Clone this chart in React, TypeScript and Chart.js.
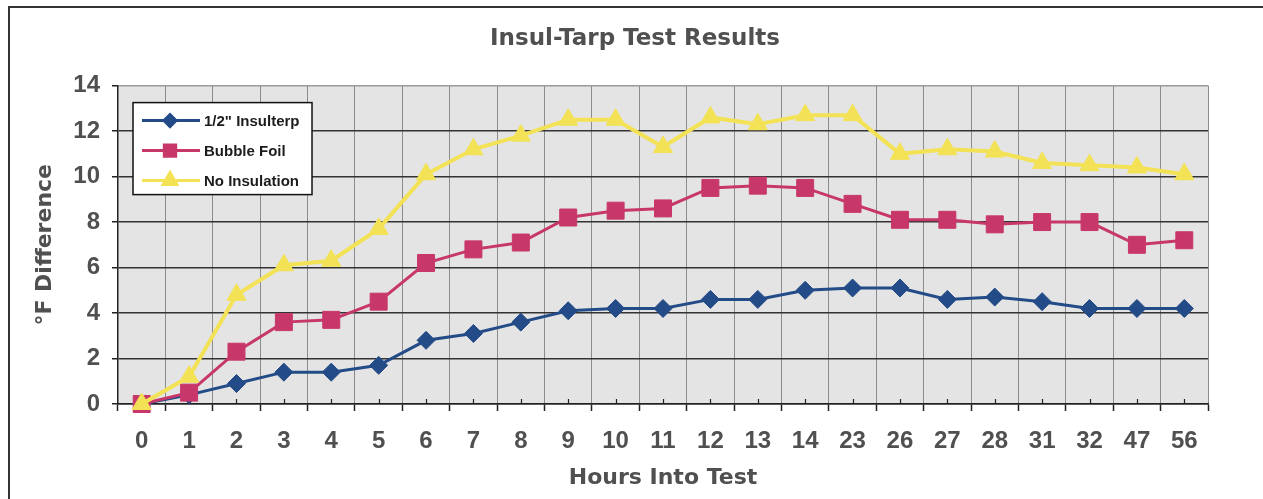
import React, { useEffect, useRef } from 'react';
import { Chart, registerables } from 'chart.js';
import { drawPoint } from 'chart.js/helpers';

Chart.register(...registerables);

const hours = ['0', '1', '2', '3', '4', '5', '6', '7', '8', '9', '10', '11', '12', '13', '14', '23', '26', '27', '28', '31', '32', '47', '56'];
const insulterp = [0, 0.4, 0.9, 1.4, 1.4, 1.7, 2.8, 3.1, 3.6, 4.1, 4.2, 4.2, 4.6, 4.6, 5.0, 5.1, 5.1, 4.6, 4.7, 4.5, 4.2, 4.2, 4.2];
const bubbleFoil = [0, 0.5, 2.3, 3.6, 3.7, 4.5, 6.2, 6.8, 7.1, 8.2, 8.5, 8.6, 9.5, 9.6, 9.5, 8.8, 8.1, 8.1, 7.9, 8.0, 8.0, 7.0, 7.2];
const noInsulation = [0, 1.2, 4.8, 6.1, 6.3, 7.7, 10.1, 11.2, 11.8, 12.5, 12.5, 11.3, 12.6, 12.3, 12.7, 12.7, 11.0, 11.2, 11.1, 10.6, 10.5, 10.4, 10.1];
const seriesLabels = ['1/2" Insulterp', 'Bubble Foil', 'No Insulation'];
const yTicks = [0, 2, 4, 6, 8, 10, 12, 14];

const BLUE = '#234b87';
const PINK = '#c8376a';
const YELLOW = '#f3e255';
const TEXT = '#505050';

const bgPlugin = {
  id: 'plotBg',
  beforeDraw(chart: any) {
    const { ctx, chartArea: a } = chart;
    ctx.save();
    ctx.fillStyle = '#e4e4e4';
    ctx.fillRect(a.left, a.top, a.right - a.left, a.bottom - a.top);
    ctx.restore();
  },
};

const minorTickPlugin = {
  id: 'minorTicks',
  beforeDatasetsDraw(chart: any) {
    const { ctx, chartArea: a } = chart;
    const xs = chart.scales.x;
    ctx.save();
    ctx.strokeStyle = '#222';
    ctx.lineWidth = 1.2;
    ctx.beginPath();
    for (let i = 0; i < hours.length; i++) {
      const px = Math.round(xs.getPixelForValue(i)) + 0.5;
      ctx.moveTo(px, a.bottom);
      ctx.lineTo(px, a.bottom - 5);
    }
    ctx.stroke();
    ctx.restore();
  },
};

const legendPlugin = {
  id: 'excelLegend',
  afterDatasetsDraw(chart: any) {
    const { ctx, chartArea: a } = chart;
    const bx = a.left + 15;
    const by = a.top + 17;
    const bw = 179;
    const bh = 92;
    ctx.save();
    ctx.fillStyle = '#ffffff';
    ctx.fillRect(bx, by, bw, bh);
    ctx.strokeStyle = '#111';
    ctx.lineWidth = 1.5;
    ctx.strokeRect(bx, by, bw, bh);
    const dsList = chart.data.datasets;
    dsList.forEach((ds: any, i: number) => {
      const cy = by + 18 + i * 30;
      ctx.strokeStyle = ds.borderColor;
      ctx.lineWidth = 3;
      ctx.beginPath();
      ctx.moveTo(bx + 9, cy);
      ctx.lineTo(bx + 67, cy);
      ctx.stroke();
      ctx.fillStyle = ds.backgroundColor;
      ctx.strokeStyle = ds.borderColor;
      drawPoint(ctx, { pointStyle: ds.pointStyle, radius: ds.legendRadius, borderWidth: 1, rotation: 0 }, bx + 37, cy);
      ctx.fillStyle = '#1c1c1c';
      ctx.font = 'bold 15px "Liberation Sans", Arial, sans-serif';
      ctx.textBaseline = 'middle';
      ctx.textAlign = 'left';
      ctx.fillText(ds.label, bx + 71, cy + 1);
    });
    ctx.restore();
  },
};

export default function App() {
  const ref = useRef<HTMLCanvasElement | null>(null);

  useEffect(() => {
    if (!ref.current) return;
    const tickFont = { family: '"Liberation Sans", Arial, sans-serif', size: 24, weight: 'bold' as const };
    const titleFont = { family: '"DejaVu Sans", sans-serif', size: 22, weight: 'bold' as const };
    const chart = new Chart(ref.current, {
      type: 'line',
      data: {
        labels: hours,
        datasets: [
          {
            label: seriesLabels[0],
            data: insulterp,
            borderColor: BLUE,
            backgroundColor: BLUE,
            borderWidth: 3,
            pointStyle: 'rectRot',
            pointRadius: 9,
            pointBorderWidth: 1,
            clip: false,
            order: 3,
            legendRadius: 6,
          } as any,
          {
            label: seriesLabels[1],
            data: bubbleFoil,
            borderColor: PINK,
            backgroundColor: PINK,
            borderWidth: 3,
            pointStyle: 'rect',
            pointRadius: 12,
            pointBorderWidth: 1,
            clip: false,
            order: 2,
            legendRadius: 8,
          } as any,
          {
            label: seriesLabels[2],
            data: noInsulation,
            borderColor: YELLOW,
            backgroundColor: YELLOW,
            borderWidth: 4,
            pointStyle: 'triangle',
            pointRadius: 11,
            pointBorderWidth: 1,
            clip: false,
            order: 1,
            legendRadius: 8,
          } as any,
        ],
      },
      options: {
        responsive: false,
        animation: false,
        devicePixelRatio: 1,
        layout: { padding: { left: 10, right: 3, top: 0, bottom: 0 } },
        plugins: {
          legend: { display: false },
          tooltip: { enabled: false },
          title: {
            display: true,
            text: 'Insul-Tarp Test Results',
            color: TEXT,
            font: { family: '"DejaVu Sans", sans-serif', size: 23, weight: 'bold' },
            padding: { top: 25, bottom: 33 },
          },
        },
        scales: {
          x: {
            type: 'category',
            offset: true,
            grid: {
              offset: true,
              color: '#8c8c8c',
              lineWidth: 1,
              tickLength: 7,
              tickColor: '#222',
              tickWidth: 1.5,
            },
            border: { color: '#222', width: 1.5 },
            ticks: { font: tickFont, color: TEXT, padding: 16, maxRotation: 0, autoSkip: false },
            title: { display: true, text: 'Hours Into Test', color: TEXT, font: titleFont, padding: { top: 0, bottom: 8 } },
            afterFit: (s: any) => { s.height = 95; },
          },
          y: {
            min: 0,
            max: 14,
            afterBuildTicks: (s: any) => { s.ticks = yTicks.map((v) => ({ value: v })); },
            grid: {
              color: (c: any) => (c.tick && c.tick.value === 14 ? '#9a9a9a' : '#333'),
              lineWidth: 1.5,
              tickLength: 6,
              tickColor: '#222',
            },
            border: { color: '#222', width: 1.5 },
            ticks: { font: tickFont, color: TEXT, padding: 12 },
            title: { display: true, text: '°F Difference', color: TEXT, font: titleFont, padding: { top: 22, bottom: 0 } },
            afterFit: (s: any) => { s.width = 108; },
          },
          yRight: {
            type: 'linear',
            position: 'right',
            display: true,
            grid: { drawOnChartArea: false, drawTicks: false },
            border: { display: false },
            ticks: { display: false },
            afterFit: (s: any) => { s.width = 52; },
          },
        },
      } as any,
      plugins: [bgPlugin, minorTickPlugin, legendPlugin],
    });
    return () => chart.destroy();
  }, []);

  return (
    <div style={{ position: 'absolute', left: 0, top: 0, width: 1263, height: 499, background: '#fff', overflow: 'hidden' }}>
      <div style={{ position: 'absolute', left: 8, top: 6, width: 1300, height: 600, borderLeft: '2px solid #333', borderTop: '2px solid #333' }} />
      <canvas ref={ref} width={1263} height={499} style={{ position: 'absolute', left: 0, top: 0, width: 1263, height: 499 }} />
    </div>
  );
}
